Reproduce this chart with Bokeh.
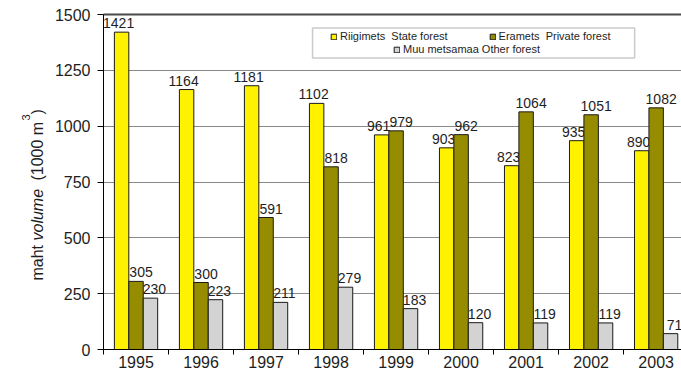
import math
from bokeh.plotting import figure
from bokeh.models import (ColumnDataSource, FixedTicker, BoxAnnotation, Grid,
                          Legend, LegendItem, Label, LinearAxis)
from bokeh.core.properties import value
from bokeh.embed import file_html
from bokeh.resources import INLINE

# ---------------- data ----------------
years = ["1995", "1996", "1997", "1998", "1999", "2000", "2001", "2002", "2003"]
state_forest = [1421, 1164, 1181, 1102, 961, 903, 823, 935, 890]
private_forest = [305, 300, 591, 818, 979, 962, 1064, 1051, 1082]
other_forest = [230, 223, 211, 279, 183, 120, 119, 119, 71]
series_names = ["Riigimets  State forest", "Eramets  Private forest",
                "Muu metsamaa Other forest"]
y_ticks = [0, 250, 500, 750, 1000, 1250, 1500]

# ---------------- style ----------------
FONT = "Liberation Sans"
TXT = "#1e1e1e"
colors = ["#FFF200", "#968C00", "#D3D3D3"]
bar_w = 0.222
dodge = [-0.222, 0.0, 0.222]
label_dx = [-3, 5, 4]

n = len(years)
centers = [i + 0.5 for i in range(n)]
bounds = [float(i) for i in range(n + 1)]
# visible window: plot area 103..681 px wide, 14..349 px high inside a 681x369 canvas
X_START, X_END = -103 / 65, 8.89
Y_MAX = 1500
Y_START, Y_END = -20 * Y_MAX / 335, Y_MAX + 14 * Y_MAX / 335

p = figure(frame_width=681, frame_height=369,
           x_range=(X_START, X_END), y_range=(Y_START, Y_END),
           x_axis_location=None, y_axis_location=None,
           output_backend="svg", toolbar_location=None, title=None,
           min_border_left=0, min_border_right=0, min_border_top=0,
           min_border_bottom=0)
p.outline_line_color = None
p.background_fill_color = "white"

# grid
p.xgrid.visible = False
p.ygrid.visible = False
grid = Grid(dimension=1, ticker=FixedTicker(ticks=y_ticks),
            grid_line_color="#8a8a8a", grid_line_width=1)
if "cross_bounds" in Grid.properties():
    grid.cross_bounds = (0, X_END)
p.add_layout(grid)
p.add_layout(BoxAnnotation(left=X_START, right=0, bottom=0, top=Y_MAX,
                           fill_color="white", fill_alpha=1.0, line_alpha=0,
                           level="underlay"))

# bars
renderers = []
for k, vals in enumerate([state_forest, private_forest, other_forest]):
    src = ColumnDataSource(dict(x=[c + dodge[k] for c in centers], top=vals,
                                txt=[str(v) for v in vals]))
    r = p.vbar(x="x", top="top", bottom=0, width=bar_w, source=src,
               fill_color=colors[k], line_color="#1a1a1a", line_width=1)
    renderers.append(r)
    p.text(x="x", y="top", text="txt", source=src, x_offset=label_dx[k],
           y_offset=-4, text_align="center", text_baseline="bottom",
           text_font=value(FONT), text_font_size="14px", text_color=TXT)

# y axis at x = 0
ya = LinearAxis(fixed_location=0, ticker=FixedTicker(ticks=y_ticks),
                bounds=(0, Y_MAX))
ya.major_tick_out = 6
ya.major_tick_in = 0
ya.minor_tick_out = 0
ya.minor_tick_in = 0
ya.major_label_standoff = 7
ya.major_label_text_font = FONT
ya.major_label_text_font_size = "16px"
ya.major_label_text_color = TXT
ya.axis_line_color = "black"
ya.major_tick_line_color = "black"
p.add_layout(ya, "left")

# x axis at y = 0
xa = LinearAxis(fixed_location=0,
                ticker=FixedTicker(ticks=centers, minor_ticks=bounds),
                bounds=(0, X_END))
xa.major_label_overrides = {c: y for c, y in zip(centers, years)}
xa.major_tick_out = 0
xa.major_tick_in = 0
xa.minor_tick_out = 5
xa.minor_tick_in = 0
xa.minor_tick_line_color = "black"
xa.major_label_standoff = 1
xa.major_label_text_font = FONT
xa.major_label_text_font_size = "16px"
xa.major_label_text_color = TXT
xa.axis_line_color = "black"
p.add_layout(xa, "below")

# top frame line at y = 1500
top_ax = LinearAxis(fixed_location=Y_MAX, ticker=FixedTicker(ticks=[]),
                    bounds=(0, X_END),
                    axis_line_color="#4a4a4a", axis_line_width=2,
                    major_tick_out=0, major_tick_in=0, minor_tick_out=0,
                    minor_tick_in=0, major_label_standoff=0,
                    major_label_text_font_size="1px")
p.add_layout(top_ax, "above")

# legend box + legends
p.add_layout(BoxAnnotation(left=3.215, right=8.169, top=1440, bottom=1305,
                           fill_color="white", fill_alpha=1.0,
                           line_color="#505050", line_width=1.5))
leg_common = dict(border_line_color=None, background_fill_alpha=0.0,
                  padding=0, margin=0, glyph_width=7, glyph_height=7,
                  label_height=12, label_standoff=3,
                  label_text_font=FONT, label_text_font_size="11px",
                  label_text_color=TXT, orientation="horizontal", spacing=41)
leg1 = Legend(items=[LegendItem(label=series_names[0], renderers=[renderers[0]]),
                     LegendItem(label=series_names[1], renderers=[renderers[1]])],
              location=(330, 327), **leg_common)
leg2 = Legend(items=[LegendItem(label=series_names[2], renderers=[renderers[2]])],
              location=(393, 314), **leg_common)
p.add_layout(leg1)
p.add_layout(leg2)

# y axis title (rotated, mixed styles), screen units relative to frame bottom-left
lab_common = dict(x_units="screen", y_units="screen", angle=math.pi / 2,
                  text_align="left", text_baseline="alphabetic",
                  text_font=FONT, text_color=TXT)
p.add_layout(Label(x=37, y=89, text="maht", text_font_size="16px", **lab_common))
p.add_layout(Label(x=37, y=129, text="volume", text_font_size="16px",
                   text_font_style="italic", **lab_common))
p.add_layout(Label(x=37, y=189, text="(1000 m", text_font_size="16px", **lab_common))
p.add_layout(Label(x=25, y=249, text="3", text_font_size="11px", **lab_common))
p.add_layout(Label(x=37, y=255, text=")", text_font_size="16px", **lab_common))

open("out.html", "w").write(file_html(p, INLINE))
